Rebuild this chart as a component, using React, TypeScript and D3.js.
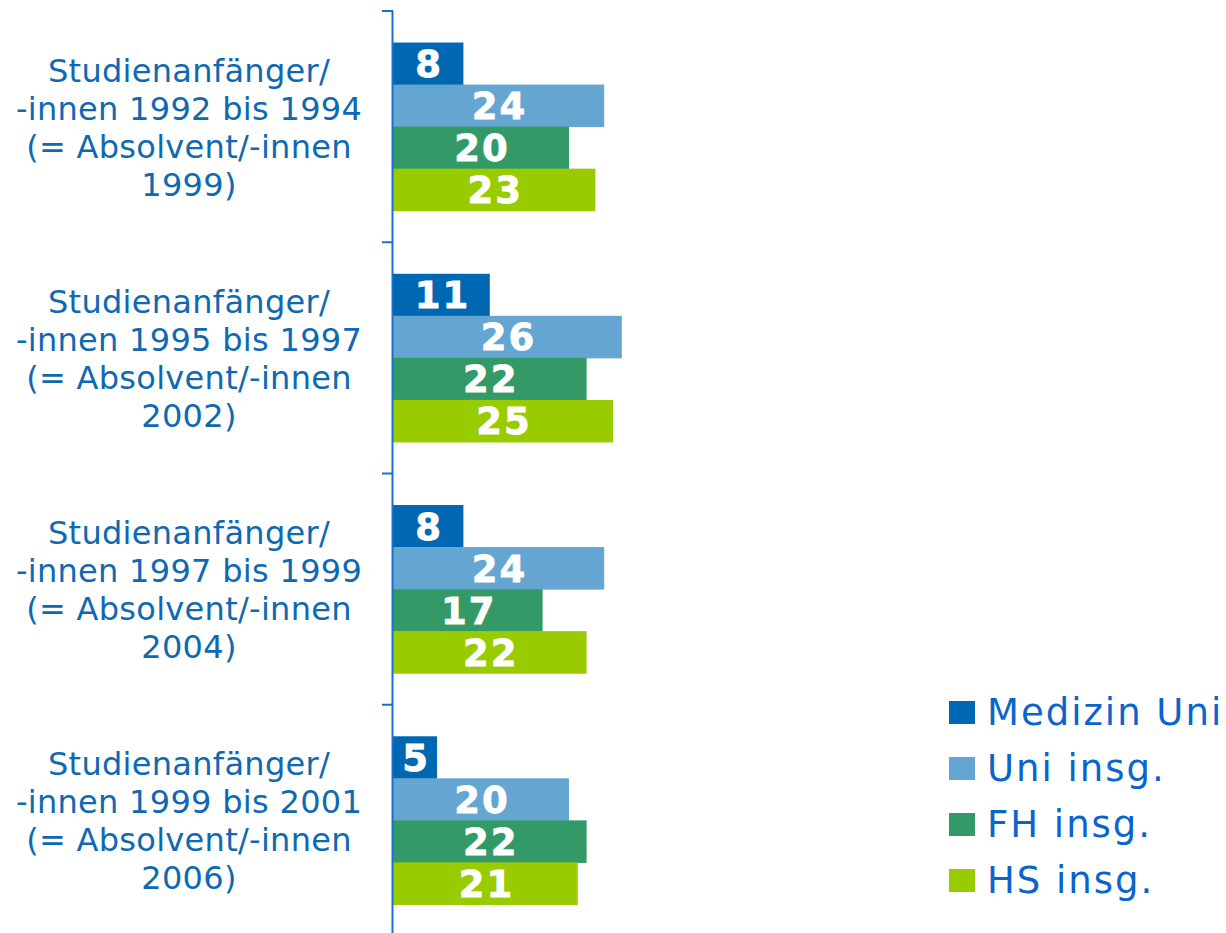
import { useEffect, useRef } from "react";
import * as d3 from "d3";

const categories = [
  ["Studienanfänger/", "-innen 1992 bis 1994", "(= Absolvent/-innen", "1999)"],
  ["Studienanfänger/", "-innen 1995 bis 1997", "(= Absolvent/-innen", "2002)"],
  ["Studienanfänger/", "-innen 1997 bis 1999", "(= Absolvent/-innen", "2004)"],
  ["Studienanfänger/", "-innen 1999 bis 2001", "(= Absolvent/-innen", "2006)"]
];

const seriesNames = ["Medizin Uni", "Uni insg.", "FH insg.", "HS insg."];
const seriesColors = ["#0068b2", "#64a5d1", "#339966", "#99cc00"];

const medizinUni = [8, 11, 8, 5];
const uniInsg = [24, 26, 24, 20];
const fhInsg = [20, 22, 17, 22];
const hsInsg = [23, 25, 22, 21];

const seriesValues = [medizinUni, uniInsg, fhInsg, hsInsg];

export default function App() {
  const svgRef = useRef<SVGSVGElement | null>(null);

  useEffect(() => {
    const svg = d3.select(svgRef.current);
    svg.selectAll("*").remove();

    const width = 1226;
    const height = 933;
    const axisX = 393;
    svg.attr("width", width).attr("height", height);

    const catKeys = categories.map((_, i) => String(i));
    const y = d3.scaleBand().domain(catKeys).range([11, 936]);
    const inner = d3
      .scaleBand()
      .domain(seriesNames)
      .range([0, y.bandwidth()])
      .paddingOuter(0.75)
      .paddingInner(0);
    const x = d3.scaleLinear().domain([0, 30]).range([axisX, axisX + 30 * 8.8]);

    // category labels
    const labelLayer = svg
      .append("g")
      .attr("fill", "#0e69b2")
      .attr("font-family", "DejaVu Sans, Verdana, sans-serif")
      .attr("font-size", 32)
      .attr("letter-spacing", 0.3)
      .attr("text-anchor", "middle");
    categories.forEach((lines, ci) => {
      const cy = (y(String(ci)) as number) + y.bandwidth() / 2;
      lines.forEach((line, li) => {
        labelLayer
          .append("text")
          .attr("x", 189)
          .attr("y", cy + (li - 1.5) * 38 + 12)
          .text(line);
      });
    });

    // bars
    const barLayer = svg.append("g");
    categories.forEach((_, ci) => {
      const y0 = y(String(ci)) as number;
      seriesNames.forEach((name, si) => {
        const v = seriesValues[si][ci];
        const by = y0 + (inner(name) as number);
        barLayer
          .append("rect")
          .attr("x", x(0))
          .attr("y", by)
          .attr("width", x(v) - x(0))
          .attr("height", inner.bandwidth() + 0.5)
          .attr("fill", seriesColors[si]);
        barLayer
          .append("text")
          .attr("x", (x(0) + x(v)) / 2 + 1)
          .attr("y", by + inner.bandwidth() / 2 + 13.5)
          .attr("text-anchor", "middle")
          .attr("fill", "#ffffff")
          .attr("stroke", "#ffffff")
          .attr("stroke-width", 0.8)
          .attr("font-family", "DejaVu Sans, Verdana, sans-serif")
          .attr("font-weight", "bold")
          .attr("font-size", 37)
          .attr("letter-spacing", 2)
          .text(v);
      });
    });

    // axis
    const axisColor = "#1a6fd3";
    svg
      .append("line")
      .attr("x1", axisX - 0.5)
      .attr("x2", axisX - 0.5)
      .attr("y1", y.range()[0])
      .attr("y2", height)
      .attr("stroke", axisColor)
      .attr("stroke-width", 2);
    svg
      .append("g")
      .selectAll("line")
      .data(catKeys)
      .join("line")
      .attr("x1", axisX - 11)
      .attr("x2", axisX)
      .attr("y1", (d) => y(d) as number)
      .attr("y2", (d) => y(d) as number)
      .attr("stroke", axisColor)
      .attr("stroke-width", 2);

    // legend
    const legend = svg.append("g").attr("transform", "translate(949,701)");
    seriesNames.forEach((name, i) => {
      legend
        .append("rect")
        .attr("x", 0)
        .attr("y", i * 56)
        .attr("width", 26)
        .attr("height", 23)
        .attr("fill", seriesColors[i]);
      legend
        .append("text")
        .attr("x", 38)
        .attr("y", i * 56 + 24)
        .attr("fill", "#0b64cc")
        .attr("font-family", "DejaVu Sans, Verdana, sans-serif")
        .attr("font-size", 37)
        .attr("letter-spacing", 2)
        .text(name);
    });
  }, []);

  return <svg ref={svgRef} style={{ position: "absolute", left: 0, top: 0 }} />;
}
